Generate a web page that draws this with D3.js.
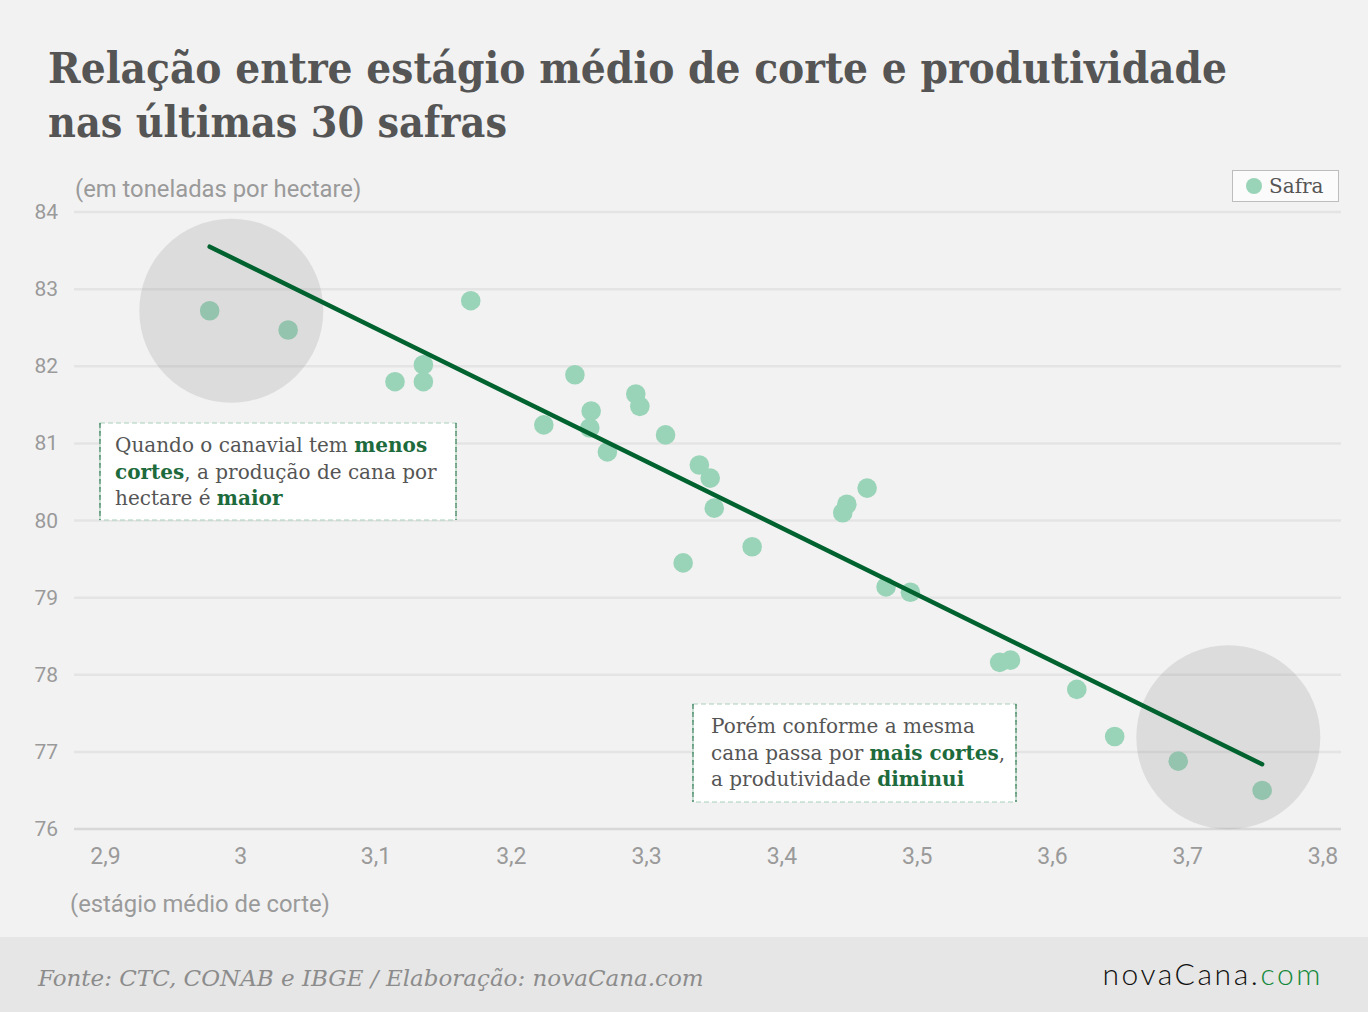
<!DOCTYPE html>
<html>
<head>
<meta charset="utf-8">
<script src="https://cdn.jsdelivr.net/npm/d3@7"></script>
<style>
  html, body { margin: 0; padding: 0; background: #f2f2f2; }
  svg { display: block; }
</style>
</head>
<body>
<div id="chart"></div>
<script>
// data
var estagio = [2.977, 3.035, 3.170, 3.114, 3.135, 3.135, 3.224, 3.247, 3.259, 3.258,
               3.271, 3.292, 3.295, 3.314, 3.339, 3.347, 3.350, 3.327, 3.378, 3.445,
               3.448, 3.463, 3.477, 3.495, 3.561, 3.569, 3.618, 3.646, 3.693, 3.755];
var produtividade = [82.72, 82.47, 82.85, 81.80, 82.02, 81.80, 81.24, 81.89, 81.42, 81.20,
                     80.89, 81.64, 81.48, 81.11, 80.72, 80.55, 80.16, 79.45, 79.66, 80.10,
                     80.21, 80.42, 79.14, 79.07, 78.16, 78.19, 77.81, 77.20, 76.88, 76.50];
var tendencia = [[2.977, 83.55], [3.755, 76.84]];
var destaques = [[2.993, 82.72], [3.730, 77.19]];
var xTicks = [2.9, 3.0, 3.1, 3.2, 3.3, 3.4, 3.5, 3.6, 3.7, 3.8];
var yTicks = [76, 77, 78, 79, 80, 81, 82, 83, 84];

var W = 1368, H = 1012;
var slab = "'DejaVu Serif', serif";
var narrow = "'Roboto', sans-serif";
var green = '#1d6b3c';

var svg = d3.select('#chart').append('svg')
    .attr('width', W)
    .attr('height', H);

svg.append('rect').attr('width', W).attr('height', H).attr('fill', '#f2f2f2');

// title
var title = svg.append('g').attr('font-family', slab).attr('font-weight', 'bold')
    .attr('fill', '#555555').attr('font-size', 42);
title.append('text').attr('x', 48).attr('y', 83)
    .attr('textLength', 1179).attr('lengthAdjust', 'spacingAndGlyphs')
    .text('Relação entre estágio médio de corte e produtividade');
title.append('text').attr('x', 48).attr('y', 137)
    .attr('textLength', 459).attr('lengthAdjust', 'spacingAndGlyphs')
    .text('nas últimas 30 safras');

var x = d3.scaleLinear().domain([2.9, 3.8]).range([105.5, 1323]);
var y = d3.scaleLinear().domain([76, 84]).range([829, 212]);
var gx0 = 74, gx1 = 1341;

// gridlines
svg.append('g').selectAll('line')
    .data(yTicks)
  .enter().append('line')
    .attr('x1', gx0).attr('x2', gx1)
    .attr('y1', function(d){ return y(d) })
    .attr('y2', function(d){ return y(d) })
    .attr('stroke', function(d){ return d === 76 ? '#d8d8d8' : '#e4e4e4' })
    .attr('stroke-width', 2.5);

// y labels
svg.append('g').selectAll('text')
    .data(yTicks)
  .enter().append('text')
    .attr('x', 58)
    .attr('y', function(d){ return y(d) + 7 })
    .attr('text-anchor', 'end')
    .attr('font-family', narrow)
    .attr('font-size', 21)
    .attr('fill', '#9a9a9a')
    .text(function(d){ return d });

// x labels
svg.append('g').selectAll('text')
    .data(xTicks)
  .enter().append('text')
    .attr('x', function(d){ return x(d) })
    .attr('y', 864)
    .attr('text-anchor', 'middle')
    .attr('font-family', narrow)
    .attr('font-size', 23)
    .attr('fill', '#9a9a9a')
    .text(function(d){ return String(+d.toFixed(1)).replace('.', ',') });

// axis titles
svg.append('text').attr('x', 75).attr('y', 197)
    .attr('font-family', narrow).attr('font-size', 23.8).attr('fill', '#9a9a9a')
    .text('(em toneladas por hectare)');
svg.append('text').attr('x', 70).attr('y', 912)
    .attr('font-family', narrow).attr('font-size', 23.8).attr('fill', '#9a9a9a')
    .text('(estágio médio de corte)');

// points
var pts = d3.range(estagio.length).map(function(i){
    return { x: estagio[i], y: produtividade[i] }
});
svg.append('g').selectAll('circle')
    .data(pts)
  .enter().append('circle')
    .attr('cx', function(d){ return x(d.x) })
    .attr('cy', function(d){ return y(d.y) })
    .attr('r', 9.8)
    .attr('fill', '#99d4b8');

// highlight circles
svg.append('g').selectAll('circle')
    .data(destaques)
  .enter().append('circle')
    .attr('cx', function(d){ return x(d[0]) })
    .attr('cy', function(d){ return y(d[1]) })
    .attr('r', 92)
    .attr('fill', '#7e7e7e')
    .attr('fill-opacity', 0.19);

// trend line
svg.append('path')
    .datum(tendencia)
    .attr('d', d3.line().x(function(d){ return x(d[0]) }).y(function(d){ return y(d[1]) }))
    .attr('stroke', '#00632f')
    .attr('stroke-width', 4.5)
    .attr('stroke-linecap', 'round')
    .attr('fill', 'none');

// annotations
function note(bx, by, bw, bh, pad, lines) {
    var g = svg.append('g');
    g.append('rect').attr('x', bx).attr('y', by).attr('width', bw).attr('height', bh)
        .attr('fill', '#ffffff')
        .attr('stroke', '#a9cfbb').attr('stroke-width', 1.2)
        .attr('stroke-dasharray', '5,3');
    [bx, bx + bw].forEach(function(sx){
        g.append('line').attr('x1', sx).attr('x2', sx).attr('y1', by).attr('y2', by + bh)
            .attr('stroke', '#2f7a52').attr('stroke-width', 1.2)
            .attr('stroke-dasharray', '5,3');
    });
    var t = g.append('text').attr('font-family', slab).attr('font-size', 20)
        .attr('fill', '#555555');
    lines.forEach(function(parts, i){
        var line = t.append('tspan').attr('x', bx + pad).attr('y', by + 29 + i * 26.5);
        parts.forEach(function(p){
            var s = line.append('tspan').text(p[0]);
            if (p[1]) s.attr('fill', green).attr('font-weight', 'bold');
        });
    });
}
note(100, 423, 356, 97, 15, [
    [['Quando o canavial tem '], ['menos', 1]],
    [['cortes', 1], [', a produção de cana por']],
    [['hectare é '], ['maior', 1]]
]);
note(693, 704, 323, 98, 18, [
    [['Porém conforme a mesma']],
    [['cana passa por '], ['mais cortes', 1], [',']],
    [['a produtividade '], ['diminui', 1]]
]);

// legend
var lg = svg.append('g');
lg.append('rect').attr('x', 1232.5).attr('y', 170.5).attr('width', 106).attr('height', 31)
    .attr('fill', '#fbfbfb').attr('stroke', '#bdbdbd').attr('stroke-width', 1);
lg.append('circle').attr('cx', 1254).attr('cy', 186).attr('r', 8).attr('fill', '#99d4b8');
lg.append('text').attr('x', 1269).attr('y', 193)
    .attr('font-family', slab).attr('font-size', 20).attr('fill', '#555555')
    .text('Safra');

// footer
svg.append('rect').attr('x', 0).attr('y', 937).attr('width', W).attr('height', H - 937)
    .attr('fill', '#e6e6e6');
svg.append('text').attr('x', 38).attr('y', 986)
    .attr('font-family', slab).attr('font-style', 'italic').attr('font-size', 23)
    .attr('fill', '#8c8c8c')
    .text('Fonte: CTC, CONAB e IBGE / Elaboração: novaCana.com');
var logo = svg.append('text').attr('x', 1323).attr('y', 985)
    .attr('text-anchor', 'end')
    .attr('font-family', "'Lato', sans-serif").attr('font-weight', 300).attr('font-size', 30)
    .attr('letter-spacing', 2.6);
logo.append('tspan').attr('fill', '#111111').text('novaCana.');
logo.append('tspan').attr('fill', '#13883a').text('com');
</script>
</body>
</html>
